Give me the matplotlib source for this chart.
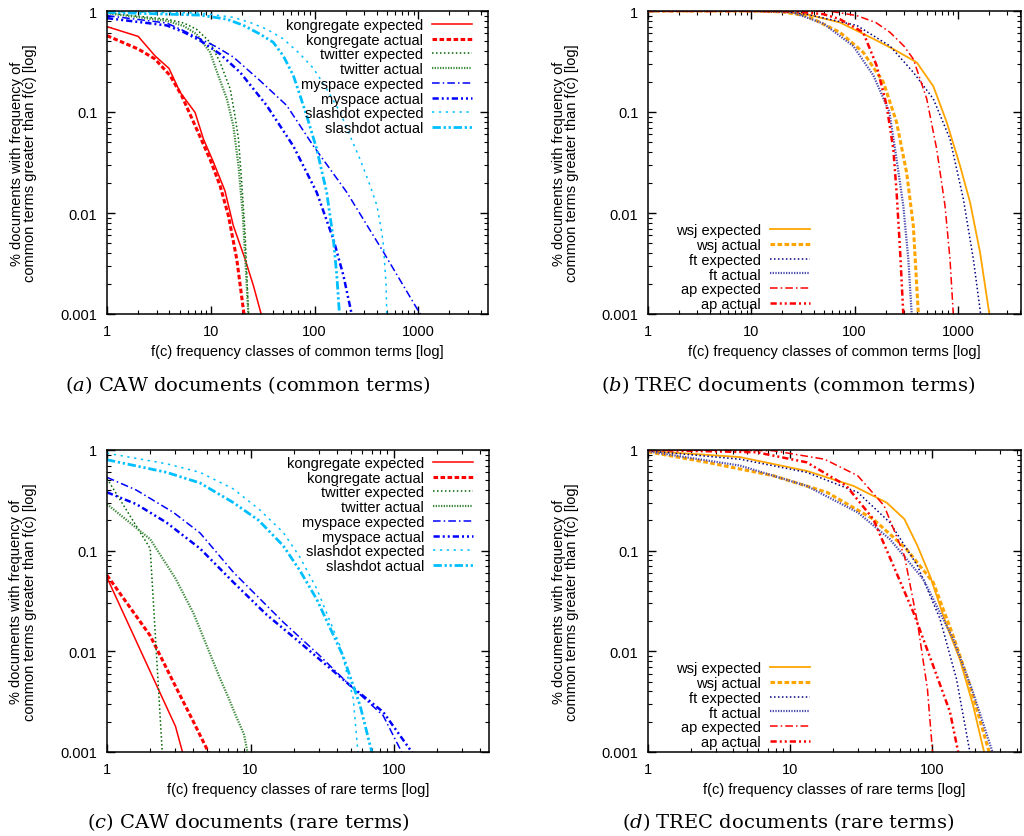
import matplotlib.pyplot as plt

plt.rcParams['font.family'] = ['Liberation Sans', 'DejaVu Sans']
plt.rcParams['mathtext.fontset'] = 'custom'
plt.rcParams['mathtext.it'] = 'DejaVu Serif:italic'
plt.rcParams['mathtext.rm'] = 'DejaVu Serif'

# (a) CAW documents, common terms
a_kong_exp_x = [1, 2, 2.9, 3.96, 5.06, 7.06, 8.5, 10.6, 13.7, 16.5, 21.4, 25.8, 30.6, 31.5]
a_kong_exp_y = [0.70, 0.56, 0.36, 0.27, 0.157, 0.099, 0.054, 0.032, 0.0166, 0.0075, 0.0035, 0.0019, 0.001, 0.0008]
a_kong_act_x = [1, 2, 2.9, 4.05, 5.25, 7.3, 9.85, 12.3, 14.8, 17.8, 20.9, 21.5]
a_kong_act_y = [0.57, 0.42, 0.335, 0.23, 0.145, 0.068, 0.034, 0.0186, 0.0094, 0.0035, 0.001, 0.0008]
a_tw_exp_x = [1, 3.76, 5.5, 7.3, 9.85, 12.3, 15.4, 17.1, 18.5, 19.9, 21.4, 23.1, 23.5]
a_tw_exp_y = [0.955, 0.83, 0.76, 0.66, 0.49, 0.31, 0.169, 0.092, 0.054, 0.020, 0.0064, 0.001, 0.0008]
a_tw_act_x = [1, 3.76, 5.5, 7.3, 9.85, 11.8, 14.3, 16.5, 18.5, 20.4, 21.7, 23, 23.4]
a_tw_act_y = [0.95, 0.80, 0.71, 0.59, 0.39, 0.23, 0.135, 0.073, 0.0295, 0.0094, 0.003, 0.001, 0.0008]
a_ms_exp_x = [1, 3.76, 5.45, 7.9, 11.4, 16.5, 29.9, 54, 97.7, 205, 462, 1043, 1100]
a_ms_exp_y = [0.9, 0.76, 0.64, 0.53, 0.44, 0.35, 0.204, 0.116, 0.046, 0.016, 0.0041, 0.001, 0.0009]
a_ms_act_x = [1, 3.76, 5.45, 7.9, 12.3, 19.2, 34.6, 62.5, 105, 152, 190, 228, 235]
a_ms_act_y = [0.85, 0.72, 0.62, 0.51, 0.375, 0.247, 0.116, 0.046, 0.016, 0.0055, 0.0024, 0.001, 0.0008]
a_sd_exp_x = [1, 7.9, 16.5, 23.9, 34.7, 50, 72.6, 97.7, 131, 177, 220, 275, 344, 400, 445, 462, 490, 497, 500]
a_sd_exp_y = [0.985, 0.955, 0.865, 0.77, 0.66, 0.53, 0.375, 0.27, 0.169, 0.099, 0.058, 0.034, 0.0186, 0.0118, 0.0064, 0.0048, 0.0019, 0.001, 0.0008]
a_sd_act_x = [1, 7.9, 14.3, 20.7, 29.9, 40, 50, 62.5, 72.6, 84, 105, 131, 152, 164, 174, 177]
a_sd_act_y = [0.97, 0.91, 0.83, 0.72, 0.59, 0.49, 0.36, 0.23, 0.145, 0.092, 0.043, 0.016, 0.0055, 0.0024, 0.001, 0.0008]

# (b) TREC documents, common terms
b_wsj_exp_x = [1, 10, 20, 34, 72, 152, 237, 399, 578, 780, 1047, 1310, 1636, 2015, 2100]
b_wsj_exp_y = [1, 1, 0.98, 0.93, 0.77, 0.53, 0.42, 0.31, 0.18, 0.079, 0.0295, 0.0128, 0.0041, 0.001, 0.0008]
b_wsj_act_x = [1, 10, 20, 34, 72, 121, 190, 255, 319, 370, 414, 420]
b_wsj_act_y = [1, 1, 0.98, 0.9, 0.615, 0.39, 0.197, 0.079, 0.025, 0.0075, 0.001, 0.0008]
b_ft_exp_x = [1, 10, 20, 34, 105, 220, 370, 578, 838, 1128, 1410, 1660, 1720]
b_ft_exp_y = [1, 1, 0.99, 0.93, 0.72, 0.45, 0.247, 0.135, 0.054, 0.0138, 0.0035, 0.001, 0.0008]
b_ft_act_x = [1, 10, 25, 50, 97, 152, 217, 255, 296, 331, 357, 362]
b_ft_act_y = [1, 1, 0.97, 0.75, 0.45, 0.23, 0.1, 0.034, 0.0118, 0.0035, 0.001, 0.0008]
b_ap_exp_x = [1, 10, 30, 60, 105, 160, 220, 300, 370, 499, 623, 750, 838, 902, 910]
b_ap_exp_y = [1, 1, 1, 0.99, 0.9, 0.77, 0.615, 0.45, 0.335, 0.135, 0.043, 0.0118, 0.0035, 0.001, 0.0008]
b_ap_act_x = [1, 10, 27, 50, 72, 121, 163, 204, 237, 255, 275, 296, 300]
b_ap_act_y = [1, 1, 0.99, 0.93, 0.83, 0.615, 0.29, 0.116, 0.043, 0.016, 0.0044, 0.001, 0.0008]

# (c) CAW documents, rare terms
c_kong_exp_x = [1, 2, 3, 4]
c_kong_exp_y = [0.054, 0.0063, 0.0018, 0.0004]
c_kong_act_x = [1, 2, 3, 4, 5, 6]
c_kong_act_y = [0.057, 0.0143, 0.0045, 0.002, 0.00105, 0.0006]
c_tw_exp_x = [1, 2, 3]
c_tw_exp_y = [0.52, 0.105, 0.000006]
c_tw_act_x = [1, 2, 3, 4, 5, 6, 7, 8, 9, 10]
c_tw_act_y = [0.29, 0.13, 0.053, 0.024, 0.011, 0.0058, 0.0035, 0.0022, 0.0015, 0.0007]
c_ms_exp_x = [1, 1.6, 2.9, 4.45, 7.6, 16.9, 30, 49.3, 84, 113, 120]
c_ms_exp_y = [0.535, 0.40, 0.24, 0.15, 0.061, 0.0195, 0.0092, 0.0046, 0.0023, 0.001, 0.0009]
c_ms_act_x = [1, 1.6, 2.6, 4.45, 7.6, 13, 22, 49.3, 84, 133, 140]
c_ms_act_y = [0.38, 0.29, 0.19, 0.105, 0.0485, 0.023, 0.0123, 0.0046, 0.0025, 0.001, 0.0009]
c_sd_exp_x = [1, 2.6, 4.45, 7.6, 11.4, 16.9, 22, 28.9, 42, 52, 56, 57]
c_sd_exp_y = [0.93, 0.73, 0.6, 0.41, 0.26, 0.152, 0.087, 0.042, 0.0114, 0.0034, 0.001, 0.0008]
c_sd_act_x = [1, 2.6, 4.45, 7.6, 11.4, 16.9, 22, 28.9, 44, 58, 70, 72]
c_sd_act_y = [0.8, 0.6, 0.47, 0.30, 0.2, 0.112, 0.064, 0.033, 0.0091, 0.0029, 0.001, 0.0008]

# (d) TREC documents, rare terms
d_wsj_exp_x = [1, 4.45, 13.1, 28, 48, 64, 79, 97, 127, 157, 195, 233, 240]
d_wsj_exp_y = [0.98, 0.85, 0.62, 0.44, 0.30, 0.206, 0.112, 0.056, 0.018, 0.0084, 0.0029, 0.001, 0.0008]
d_wsj_act_x = [1, 2.6, 7.6, 18.2, 38.6, 66, 102, 141, 185, 253, 260]
d_wsj_act_y = [0.96, 0.755, 0.556, 0.38, 0.206, 0.104, 0.0485, 0.0143, 0.0046, 0.001, 0.0008]
d_ft_exp_x = [1, 4.45, 13.1, 30, 50.6, 79, 114, 149, 185, 190]
d_ft_exp_y = [0.98, 0.81, 0.6, 0.38, 0.19, 0.071, 0.021, 0.0053, 0.001, 0.0008]
d_ft_act_x = [1, 4.45, 13.1, 30, 50.6, 87, 141, 195, 267, 275]
d_ft_act_y = [0.97, 0.7, 0.44, 0.24, 0.13, 0.052, 0.0133, 0.0039, 0.001, 0.0008]
d_ap_exp_x = [1, 7.6, 17.5, 30, 46, 64, 79, 93, 101, 103]
d_ap_exp_y = [1.0, 0.985, 0.81, 0.556, 0.28, 0.089, 0.0195, 0.0042, 0.001, 0.0008]
d_ap_act_x = [1, 5.8, 13.1, 25, 38.6, 53.5, 74, 102, 134, 153, 158]
d_ap_act_y = [1.0, 0.95, 0.755, 0.44, 0.206, 0.071, 0.0244, 0.0072, 0.0025, 0.001, 0.0008]

caw_labels = ['kongregate expected', 'kongregate actual', 'twitter expected', 'twitter actual',
              'myspace expected', 'myspace actual', 'slashdot expected', 'slashdot actual']
trec_labels = ['wsj expected', 'wsj actual', 'ft expected', 'ft actual', 'ap expected', 'ap actual']

caw_styles = [
    dict(color='#ff0000', lw=1.1, ls='-'),
    dict(color='#ff0000', lw=2.2, ls=(0, (1.5, 0.8))),
    dict(color='#006400', lw=1.1, ls=(0, (1, 1.6))),
    dict(color='#3d8b3d', lw=1.6, ls=(0, (0.6, 0.6))),
    dict(color='#0000ff', lw=1.1, ls=(0, (5, 2, 1, 2))),
    dict(color='#0000ff', lw=1.8, ls=(0, (2.5, 1.2, 0.8, 1.2, 0.8, 1.2))),
    dict(color='#00bfff', lw=1.1, ls=(0, (1.5, 3))),
    dict(color='#00bfff', lw=2.0, ls=(0, (3, 1, 0.8, 1, 0.8, 1))),
]
trec_styles = [
    dict(color='#ffa500', lw=1.3, ls='-'),
    dict(color='#ffa500', lw=2.2, ls=(0, (1.5, 0.8))),
    dict(color='#000080', lw=1.1, ls=(0, (1, 1.6))),
    dict(color='#4b4bb0', lw=1.6, ls=(0, (0.6, 0.6))),
    dict(color='#ff0000', lw=1.1, ls=(0, (5, 2, 1, 2))),
    dict(color='#ff0000', lw=1.8, ls=(0, (2.5, 1.2, 0.8, 1.2, 0.8, 1.2))),
]

W, H = 1024, 837
fig = plt.figure(figsize=(W / 100, H / 100), dpi=100)


def px_axes(left, top, right, bottom):
    return fig.add_axes([left / W, 1 - bottom / H, (right - left) / W, (bottom - top) / H])


def setup(ax, xmax, xticks, xlabel, series, labels, styles, leg_loc, leg_anchor):
    for (x, y), lab, st in zip(series, labels, styles):
        ax.plot(x, y, label=lab, **st)
    ax.set_xscale('log')
    ax.set_yscale('log')
    ax.set_xlim(1, xmax)
    ax.set_ylim(0.001, 1)
    ax.set_xticks(xticks)
    ax.set_xticklabels([str(t) for t in xticks])
    ax.set_yticks([0.001, 0.01, 0.1, 1])
    ax.set_yticklabels(['0.001', '0.01', '0.1', '1'])
    ax.tick_params(which='both', direction='in', top=True, right=True, labelsize=10.5, pad=7)
    ax.tick_params(which='major', length=6, width=1)
    ax.tick_params(which='minor', length=3, width=0.8)
    for s in ax.spines.values():
        s.set_linewidth(1.1)
    ax.set_xlabel(xlabel, fontsize=10.5)
    ax.xaxis.set_label_coords(0.5, -0.10)
    ax.set_ylabel('% documents with frequency of\ncommon terms greater than f(c) [log]',
                  fontsize=10.5, linespacing=0.95)
    ax.yaxis.set_label_coords(-70 / 381, 0.5)
    ax.legend(loc=leg_loc, bbox_to_anchor=leg_anchor, borderaxespad=0, borderpad=0,
              frameon=False, markerfirst=False, handlelength=2.75, handletextpad=0.6,
              labelspacing=0.05, fontsize=10.5)


ax_a = px_axes(107, 12, 488, 315)
setup(ax_a, 4700, [1, 10, 100, 1000], 'f(c) frequency classes of common terms [log]',
      [(a_kong_exp_x, a_kong_exp_y), (a_kong_act_x, a_kong_act_y), (a_tw_exp_x, a_tw_exp_y),
       (a_tw_act_x, a_tw_act_y), (a_ms_exp_x, a_ms_exp_y), (a_ms_act_x, a_ms_act_y),
       (a_sd_exp_x, a_sd_exp_y), (a_sd_act_x, a_sd_act_y)],
      caw_labels, caw_styles, 'upper right', (1 - 16 / 381, 1 - 7 / 303))

ax_b = px_axes(648, 12, 1021, 315)
setup(ax_b, 4080, [1, 10, 100, 1000], 'f(c) frequency classes of common terms [log]',
      [(b_wsj_exp_x, b_wsj_exp_y), (b_wsj_act_x, b_wsj_act_y), (b_ft_exp_x, b_ft_exp_y),
       (b_ft_act_x, b_ft_act_y), (b_ap_exp_x, b_ap_exp_y), (b_ap_act_x, b_ap_act_y)],
      trec_labels, trec_styles, 'lower left', (28 / 373, 3 / 303))

ax_c = px_axes(107, 451, 489, 753)
setup(ax_c, 459, [1, 10, 100], 'f(c) frequency classes of rare terms [log]',
      [(c_kong_exp_x, c_kong_exp_y), (c_kong_act_x, c_kong_act_y), (c_tw_exp_x, c_tw_exp_y),
       (c_tw_act_x, c_tw_act_y), (c_ms_exp_x, c_ms_exp_y), (c_ms_act_x, c_ms_act_y),
       (c_sd_exp_x, c_sd_exp_y), (c_sd_act_x, c_sd_act_y)],
      caw_labels, caw_styles, 'upper right', (1 - 16 / 382, 1 - 6 / 302))

ax_d = px_axes(648, 451, 1021, 753)
setup(ax_d, 424, [1, 10, 100], 'f(c) frequency classes of rare terms [log]',
      [(d_wsj_exp_x, d_wsj_exp_y), (d_wsj_act_x, d_wsj_act_y), (d_ft_exp_x, d_ft_exp_y),
       (d_ft_act_x, d_ft_act_y), (d_ap_exp_x, d_ap_exp_y), (d_ap_act_x, d_ap_act_y)],
      trec_labels, trec_styles, 'lower left', (28 / 373, 3 / 302))

cap = dict(fontsize=14, family='DejaVu Serif', ha='center', va='center')
fig.text(248 / W, 1 - 385 / H, r'$\mathit{(a)}$ CAW documents (common terms)', **cap)
fig.text(788 / W, 1 - 385 / H, r'$\mathit{(b)}$ TREC documents (common terms)', **cap)
fig.text(248 / W, 1 - 822 / H, r'$\mathit{(c)}$ CAW documents (rare terms)', **cap)
fig.text(788 / W, 1 - 822 / H, r'$\mathit{(d)}$ TREC documents (rare terms)', **cap)

fig.savefig('out.png', dpi=100)
